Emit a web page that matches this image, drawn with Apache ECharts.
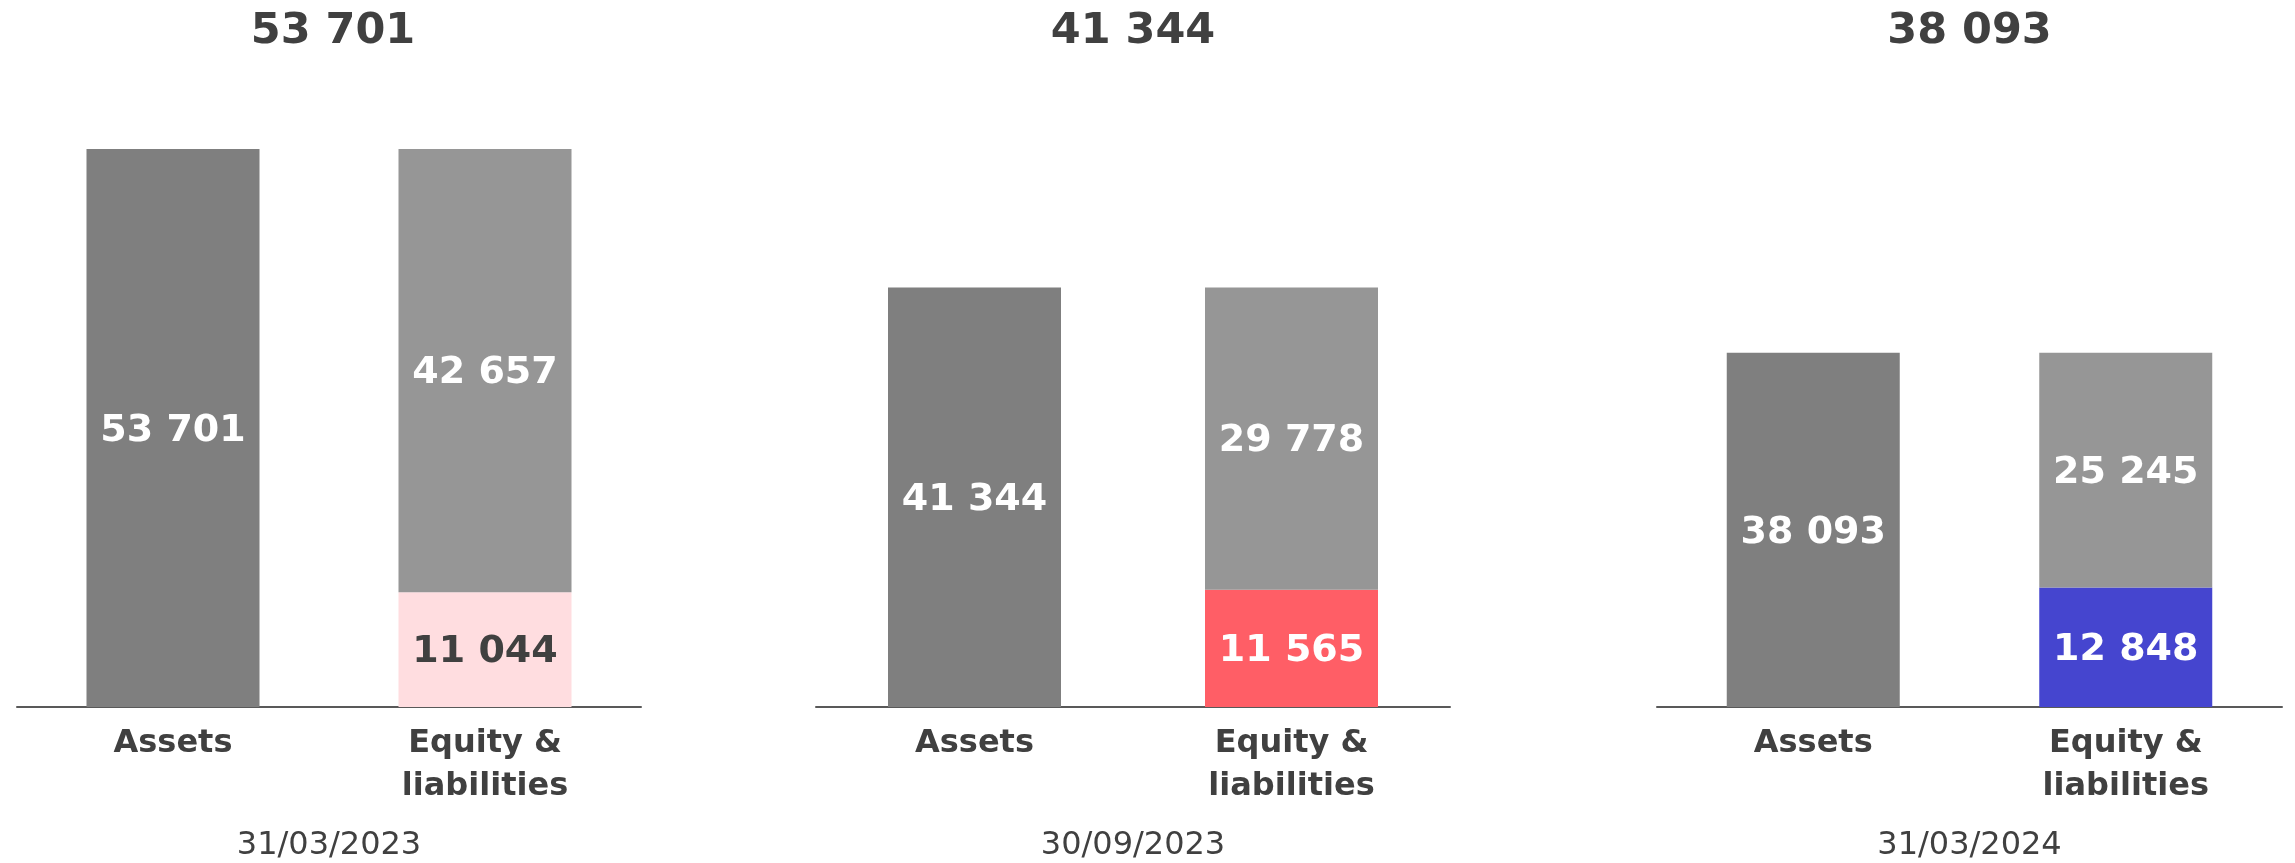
<!DOCTYPE html>
<html>
<head>
<meta charset="utf-8">
<script src="https://cdn.jsdelivr.net/npm/echarts@6/dist/echarts.min.js"></script>
<style>
  html, body { margin: 0; padding: 0; background: #ffffff; }
  #chart { width: 2295px; height: 863px; }
</style>
</head>
<body>
<div id="chart"></div>
<script>
// balance sheet, three reporting dates
const dates = ['31/03/2023', '30/09/2023', '31/03/2024'];
const categories = ['Assets', 'Equity &\nliabilities'];
const assets = [53701, 41344, 38093];
const equity = [11044, 11565, 12848];
const liabilities = [42657, 29778, 25245];
// per-panel axis max (each panel scaled on its own)
const axisMax = [53701, 55000, 60000];

const equityColors = ['#FFDDE0', '#FF5E66', '#4545CF'];
const equityLabelColors = ['#404040', '#ffffff', '#ffffff'];

const FONT = '"DejaVu Sans", Verdana, sans-serif';
const TEXT = '#404040';

// panel layout (px)
const panels = [
    {left: 17, width: 624},
    {left: 816, width: 634},
    {left: 1657, width: 625}
];
const gridTop = 149;
const gridHeight = 558;

function fmt(v) {
    return String(v).replace(/\B(?=(\d{3})+(?!\d))/g, ' ');
}

const chart = echarts.init(document.getElementById('chart'));

const grid = [];
const xAxis = [];
const yAxis = [];
const series = [];
const graphic = [];

panels.forEach((p, i) => {
    grid.push({left: p.left, width: p.width, top: gridTop, height: gridHeight});
    xAxis.push({
        type: 'category',
        gridIndex: i,
        data: categories,
        axisLine: {lineStyle: {color: '#595959', width: 2}},
        axisTick: {show: false},
        axisLabel: {
            color: TEXT,
            fontFamily: FONT,
            fontWeight: 'bold',
            fontSize: 32,
            lineHeight: 43,
            margin: 15,
            interval: 0
        }
    });
    yAxis.push({
        type: 'value',
        gridIndex: i,
        min: 0,
        max: axisMax[i],
        show: false,
        splitLine: {show: false}
    });

    const labelBase = {
        show: true,
        position: 'inside',
        offset: [0, 3],
        fontFamily: FONT,
        fontWeight: 'bold',
        fontSize: 38,
        formatter: (d) => fmt(d.value)
    };

    series.push({
        name: 'Assets',
        type: 'bar',
        xAxisIndex: i,
        yAxisIndex: i,
        stack: 'p' + i,
        barWidth: 173,
        data: [assets[i], '-'],
        itemStyle: {color: '#7F7F7F'},
        label: Object.assign({}, labelBase, {color: '#ffffff'})
    });
    series.push({
        name: 'Equity',
        type: 'bar',
        xAxisIndex: i,
        yAxisIndex: i,
        stack: 'p' + i,
        barWidth: 173,
        data: ['-', equity[i]],
        itemStyle: {color: equityColors[i]},
        label: Object.assign({}, labelBase, {color: equityLabelColors[i]})
    });
    series.push({
        name: 'Liabilities',
        type: 'bar',
        xAxisIndex: i,
        yAxisIndex: i,
        stack: 'p' + i,
        barWidth: 173,
        data: ['-', liabilities[i]],
        itemStyle: {color: '#969696'},
        label: Object.assign({}, labelBase, {color: '#ffffff'})
    });

    const cx = p.left + p.width / 2;
    // total on top
    graphic.push({
        type: 'text',
        x: cx + (i === 0 ? 4 : 0),
        y: 32,
        style: {
            text: fmt(assets[i]),
            fill: TEXT,
            font: 'bold 43px ' + FONT,
            align: 'center',
            verticalAlign: 'middle'
        }
    });
    // date under the axis
    graphic.push({
        type: 'text',
        x: cx,
        y: 846,
        style: {
            text: dates[i],
            fill: TEXT,
            font: '32px ' + FONT,
            align: 'center',
            verticalAlign: 'middle'
        }
    });
});

const option = {
    backgroundColor: '#ffffff',
    animation: false,
    grid: grid,
    xAxis: xAxis,
    yAxis: yAxis,
    series: series,
    graphic: graphic
};

chart.setOption(option);
</script>
</body>
</html>
